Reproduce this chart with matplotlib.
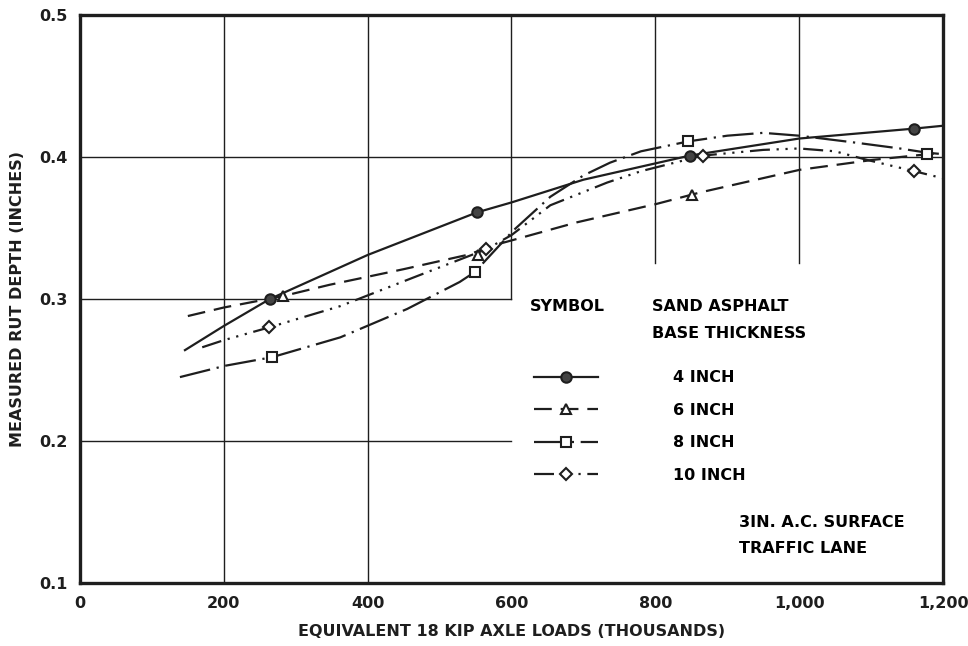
import matplotlib
matplotlib.use("Agg")
import matplotlib.pyplot as plt

plt.rcParams['font.family'] = ['Liberation Sans Narrow', 'DejaVu Sans']
plt.rcParams['font.weight'] = 'bold'

ink = '#1e1e1e'

# fitted curves (thousands of loads, rut depth in inches)
x4 = [146, 200, 264, 400, 552, 600, 700, 848, 1000, 1160, 1200]
y4 = [0.264, 0.281, 0.300, 0.331, 0.361, 0.368, 0.384, 0.401, 0.413, 0.420, 0.422]
x6 = [150, 200, 282, 347, 450, 538, 584, 691, 802, 862, 1001, 1103, 1160, 1200]
y6 = [0.288, 0.294, 0.302, 0.310, 0.321, 0.331, 0.339, 0.354, 0.367, 0.375, 0.391, 0.398, 0.401, 0.403]
x8 = [139, 202, 267, 362, 455, 528, 549, 602, 654, 700, 737, 780, 846, 900, 950, 1000, 1080, 1140, 1178, 1200]
y8 = [0.245, 0.253, 0.259, 0.273, 0.293, 0.312, 0.319, 0.348, 0.372, 0.387, 0.396, 0.404, 0.411, 0.415, 0.417, 0.415, 0.410, 0.406, 0.403, 0.402]
x10 = [170, 200, 263, 362, 463, 565, 600, 654, 733, 780, 866, 950, 1000, 1050, 1094, 1160, 1200]
y10 = [0.266, 0.271, 0.280, 0.295, 0.315, 0.335, 0.345, 0.366, 0.382, 0.390, 0.401, 0.405, 0.406, 0.404, 0.398, 0.390, 0.385]

# measured points
px4 = [264, 552, 848, 1160]
py4 = [0.300, 0.361, 0.401, 0.420]
px6 = [282, 553, 851]
py6 = [0.302, 0.331, 0.373]
px8 = [267, 549, 846, 1178]
py8 = [0.259, 0.319, 0.411, 0.402]
px10 = [263, 565, 866, 1160]
py10 = [0.280, 0.335, 0.401, 0.390]

labels = ['4 INCH', '6 INCH', '8 INCH', '10 INCH']
xticks = [0, 200, 400, 600, 800, 1000, 1200]
xticklabels = ['0', '200', '400', '600', '800', '1,000', '1,200']
yticks = [0.1, 0.2, 0.3, 0.4, 0.5]

# partial grid: (value, start, end)
vgrid = [(200, 0.1, 0.5), (400, 0.1, 0.5), (600, 0.3, 0.5), (800, 0.325, 0.5), (1000, 0.325, 0.5)]
hgrid = [(0.2, 0, 600), (0.3, 0, 600), (0.4, 0, 1200)]

fig = plt.figure(figsize=(9.68, 6.46), dpi=100)
ax = fig.add_axes([0.0826, 0.0975, 0.8916, 0.8793])

for v, lo, hi in vgrid:
    ax.plot([v, v], [lo, hi], color=ink, lw=1.0, zorder=1)
for v, lo, hi in hgrid:
    ax.plot([lo, hi], [v, v], color=ink, lw=1.0, zorder=1)

styles = [
    dict(ls='-'),
    dict(ls=(0, (8, 4))),
    dict(ls=(0, (14, 3, 1, 3))),
    dict(ls=(0, (9, 3, 1, 3, 1, 3, 1, 3))),
]
markers = [
    dict(marker='o', mfc='#444444'),
    dict(marker='^', mfc='white'),
    dict(marker='s', mfc='white'),
    dict(marker='D', mfc='white', ms=6.5),
]
curves = [(x4, y4), (x6, y6), (x8, y8), (x10, y10)]
points = [(px4, py4), (px6, py6), (px8, py8), (px10, py10)]

handles = []
for (cx, cy), (mx, my), st, mk, lab in zip(curves, points, styles, markers, labels):
    ax.plot(cx, cy, color=ink, lw=1.6, zorder=3, **st)
    mkw = dict(ms=7.5, mec=ink, mew=1.5)
    mkw.update(mk)
    ax.plot(mx, my, ls='none', zorder=4, **mkw)
    h, = ax.plot([], [], color=ink, lw=1.6, **st, **mkw)
    handles.append(h)

leg = ax.legend(handles, labels, loc='upper left', bbox_to_anchor=(0.509, 0.40),
                frameon=False, fontsize=11.5, handlelength=4.0, handletextpad=4.75,
                labelspacing=1.1, markerfirst=True, numpoints=1)
for t in leg.get_texts():
    t.set_fontweight('bold')

ax.text(0.521, 0.486, 'SYMBOL', transform=ax.transAxes, fontsize=11.5,
        fontweight='bold', va='center', ha='left')
ax.text(0.663, 0.486, 'SAND ASPHALT', transform=ax.transAxes, fontsize=11.5,
        fontweight='bold', va='center', ha='left')
ax.text(0.663, 0.440, 'BASE THICKNESS', transform=ax.transAxes, fontsize=11.5,
        fontweight='bold', va='center', ha='left')
ax.text(0.764, 0.106, '3IN. A.C. SURFACE', transform=ax.transAxes, fontsize=11.5,
        fontweight='bold', va='center', ha='left')
ax.text(0.764, 0.060, 'TRAFFIC LANE', transform=ax.transAxes, fontsize=11.5,
        fontweight='bold', va='center', ha='left')

ax.set_xlim(0, 1200)
ax.set_ylim(0.1, 0.5)
ax.set_xticks(xticks)
ax.set_xticklabels(xticklabels)
ax.set_yticks(yticks)
ax.set_yticklabels([f'{v:.1f}' for v in yticks])
ax.tick_params(length=0, labelsize=11.5, pad=9, colors=ink)
for s in ax.spines.values():
    s.set_linewidth(2.4)
    s.set_color(ink)

ax.set_xlabel('EQUIVALENT 18 KIP AXLE LOADS (THOUSANDS)', fontsize=11.5,
              fontweight='bold', labelpad=10, color=ink)
ax.set_ylabel('MEASURED RUT DEPTH (INCHES)', fontsize=11.5,
              fontweight='bold', labelpad=10, color=ink)

fig.savefig('out.png', dpi=100, facecolor='white')
